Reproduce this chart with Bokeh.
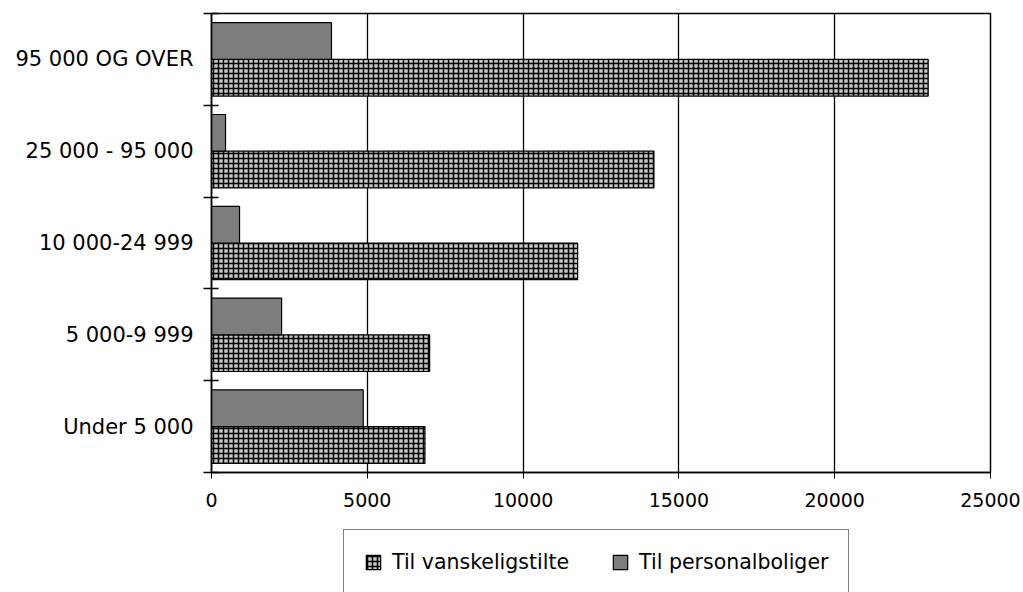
from bokeh.plotting import figure
from bokeh.layouts import column
from bokeh.models import (Range1d, FixedTicker, Legend, LegendItem, ColumnDataSource,
                          CustomJSTickFormatter)
from bokeh.transform import dodge
from bokeh.embed import file_html
from bokeh.resources import INLINE

categories = ["Under 5 000", "5 000-9 999", "10 000-24 999", "25 000 - 95 000", "95 000 OG OVER"]
vanskeligstilte = [6850, 7000, 11750, 14200, 23000]
personalboliger = [4870, 2250, 900, 450, 3850]
x_ticks = [0, 5000, 10000, 15000, 20000, 25000]
series_names = ["Til vanskeligstilte", "Til personalboliger"]

FONT = "DejaVu Sans"

V_STYLE = dict(fill_color="#c8c8c8", line_color="black", line_width=1.2,
               hatch_pattern="cross", hatch_color="black", hatch_scale=5, hatch_weight=1.5)
P_STYLE = dict(fill_color="#7d7d7d", line_color="black", line_width=1.2)

n = len(categories)
centers = [i + 0.5 for i in range(n)]
bounds = list(range(n + 1))

src = ColumnDataSource(dict(y=centers, v=vanskeligstilte, p=personalboliger))

p = figure(width=1023, height=520, output_backend="svg", toolbar_location=None,
           x_range=Range1d(0, 25000), y_range=Range1d(0, n),
           min_border_left=211, min_border_top=13, min_border_right=33, min_border_bottom=48,
           background_fill_color="white", border_fill_color="white")

p.hbar(y=dodge("y", -0.2), right="v", left=0, height=0.4, source=src, **V_STYLE)
p.hbar(y=dodge("y", 0.2), right="p", left=0, height=0.4, source=src, **P_STYLE)

# x axis
p.xaxis.ticker = FixedTicker(ticks=x_ticks)
p.xaxis.axis_line_color = "black"
p.xaxis.axis_line_width = 1.5
p.xaxis.major_tick_in = 0
p.xaxis.major_tick_out = 6
p.xaxis.major_tick_line_color = "black"
p.xaxis.minor_tick_line_color = None
p.xaxis.major_label_text_font = FONT
p.xaxis.major_label_text_font_size = "19px"
p.xaxis.major_label_text_color = "black"
p.xaxis.major_label_standoff = 14

# y axis: labels at category centres, ticks at category boundaries
p.yaxis.ticker = FixedTicker(ticks=centers, minor_ticks=bounds)
p.yaxis.formatter = CustomJSTickFormatter(args=dict(labels=categories),
                                          code="return labels[Math.floor(tick)];")
p.yaxis.axis_line_color = "black"
p.yaxis.axis_line_width = 1.5
p.yaxis.major_tick_in = 0
p.yaxis.major_tick_out = 0
p.yaxis.minor_tick_in = 7
p.yaxis.minor_tick_out = 8
p.yaxis.minor_tick_line_color = "black"
p.yaxis.minor_tick_line_width = 1.5
p.yaxis.major_label_text_font = FONT
p.yaxis.major_label_text_font_size = "21px"
p.yaxis.major_label_text_color = "black"
p.yaxis.major_label_standoff = 10

p.xgrid.ticker = FixedTicker(ticks=x_ticks)
p.xgrid.grid_line_color = "black"
p.xgrid.grid_line_width = 1.3
p.ygrid.grid_line_color = None
p.outline_line_color = "black"
p.outline_line_width = 1.5

# legend strip below the chart (box runs off the bottom edge, as in the scan);
# it carries hidden copies of the bar renderers as legend sources
p2 = figure(width=1023, height=72, output_backend="svg", toolbar_location=None,
            x_range=Range1d(0, 25000), y_range=Range1d(0, n),
            x_axis_location=None, y_axis_location=None,
            min_border_left=211, min_border_right=33, min_border_top=0, min_border_bottom=0,
            background_fill_color="white", border_fill_color="white")
p2.grid.grid_line_color = None
p2.outline_line_color = None
lv = p2.hbar(y=dodge("y", -0.2), right="v", left=0, height=0.4, source=src, visible=False, **V_STYLE)
lp = p2.hbar(y=dodge("y", 0.2), right="p", left=0, height=0.4, source=src, visible=False, **P_STYLE)

legend = Legend(items=[LegendItem(label=series_names[0], renderers=[lv]),
                       LegendItem(label=series_names[1], renderers=[lp])],
                orientation="horizontal", location=(132, -3),
                padding=20, margin=0, spacing=42, label_standoff=10,
                glyph_width=18, glyph_height=18,
                label_text_font=FONT, label_text_font_size="20.5px",
                label_text_color="black",
                inactive_fill_alpha=0,
                border_line_color="black", border_line_width=1.5,
                background_fill_color="white", background_fill_alpha=1)
p2.add_layout(legend, "center")

layout = column(p, p2, spacing=0)
open("out.html", "w").write(file_html(layout, INLINE))
